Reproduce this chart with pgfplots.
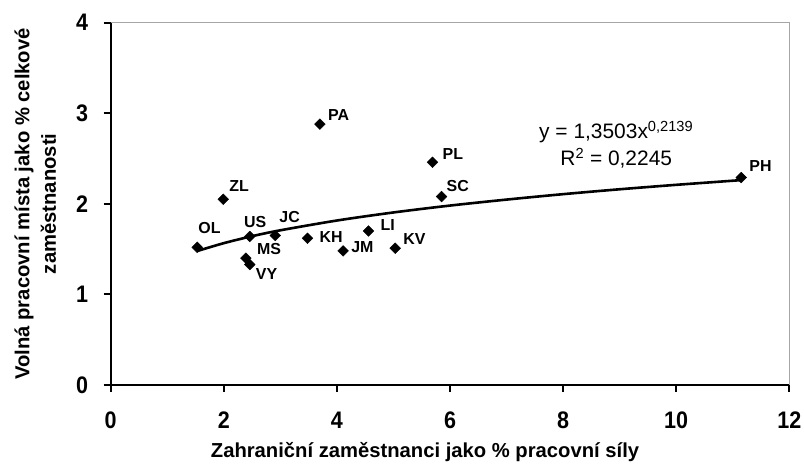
\documentclass[border=0pt]{standalone}
\usepackage{fontspec}
\setmainfont{Liberation Sans}
\newfontfamily\tickfont[FakeStretch=0.9]{Liberation Sans}
\usepackage{pgfplots}
\pgfplotsset{compat=1.18}
\usepackage{pgfplotstable}

% x, y, label, label shift right / up (bp)
\pgfplotstableread{
x y label dx dy
3.70 2.88 PA 8 9
5.69 2.46 PL 10 8
1.99 2.05 ZL 6 13
5.85 2.08 SC 5 11
1.53 1.52 OL 1 19
2.46 1.64 US -6 14
2.91 1.65 JC 4 19
3.48 1.62 KH 12 1
4.56 1.70 LI 12 6
4.11 1.48 JM 8 4
5.03 1.51 KV 8 9
2.39 1.40 MS 11 9
2.46 1.33 VY 6 -10
11.15 2.29 PH 8 12
}\pointdata

\begin{document}
\begin{tikzpicture}
\begin{axis}[
    scale only axis,
    width=678.6bp, height=362.3bp,
    xmin=0, xmax=12,
    ymin=0, ymax=4,
    xtick={0,2,4,6,8,10,12},
    ytick={0,1,2,3,4},
    axis x line*=bottom,
    axis y line*=left,
    axis line style={black, line width=2bp},
    tick style={black, line width=2bp},
    tick align=outside,
    major tick length=7bp,
    /pgf/number format/assume math mode=true,
    ticklabel style={font=\tickfont\bfseries\fontsize{24}{24}\selectfont},
    xticklabel style={anchor=center, yshift=-28.5bp},
    yticklabel style={anchor=east, xshift=-15.4bp, inner sep=0pt},
    xlabel={Zahraniční zaměstnanci jako \% pracovní síly},
    ylabel={Volná pracovní místa jako \% celkové\\zaměstnanosti},
    label style={font=\bfseries\fontsize{20.3}{26.7}\selectfont},
    xlabel style={at={(axis description cs:0.4632,-0.186)}, anchor=center},
    ylabel style={at={(axis description cs:-0.111,0.5)}, anchor=center, align=center},
    clip=false,
]
\draw[gray!70, line width=0.9bp] (rel axis cs:0,1) -- (rel axis cs:1,1) -- (rel axis cs:1,0);
\coordinate (O) at (rel axis cs:0,0);

% power trend line
\addplot[black, line width=2.6bp, smooth, no markers]
    coordinates {(1.53,1.479)(2,1.566)(2.5,1.643)(3,1.708)(4,1.816)(5,1.905)(6,1.981)(7,2.047)(8,2.107)(9,2.161)(10,2.210)(11.15,2.262)};

\addplot[
    only marks,
    mark=square*,
    mark size=3.8bp,
    mark options={rotate=45, fill=black, draw=black},
    point meta=explicit symbolic,
    visualization depends on={\thisrow{dx}\as\dx},
    visualization depends on={\thisrow{dy}\as\dy},
    nodes near coords,
    nodes near coords style={anchor=west, inner sep=0pt, xshift=\dx pt, yshift=\dy pt,
        font=\bfseries\fontsize{16}{16}\selectfont},
] table[x=x, y=y, meta=label] {\pointdata};

\node[align=center, font=\fontsize{21}{27}\selectfont] at (axis cs:8.94,2.654)
    {y = 1,3503x\textsuperscript{0,2139}\\R\textsuperscript{2} = 0,2245};
\end{axis}
\pgfresetboundingbox
\path (O) ++(-110.7bp,-91bp) rectangle ++(804bp,476bp);
\end{tikzpicture}
\end{document}
